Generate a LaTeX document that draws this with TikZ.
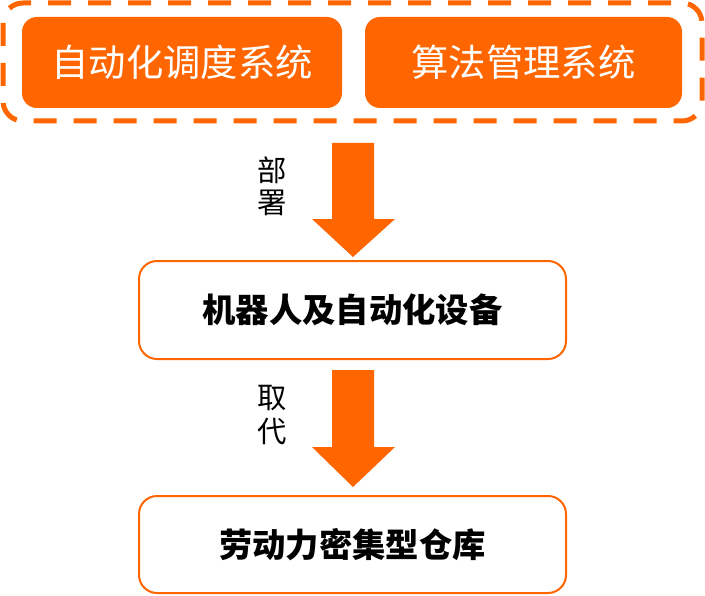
\documentclass[tikz,border=0pt]{standalone}
\usepackage{fontspec}
\setmainfont{Noto Sans CJK SC}
\definecolor{org}{RGB}{255,102,0}
\tikzset{
  topbox/.style={fill=org, rounded corners=11.25pt, minimum height=68.25pt, inner sep=0pt,
    text=white, font=\fontsize{28}{30}\selectfont},
  midbox/.style={draw=org, line width=1.5pt, fill=white, rounded corners=13.5pt, minimum width=320.25pt,
    minimum height=73.5pt, inner sep=0pt, font=\bfseries\fontsize{25}{27}\selectfont},
  lbl/.style={inner sep=0pt, font=\fontsize{22}{24}\selectfont},
  bigarrow/.style={fill=org},
}
\begin{document}
\begin{tikzpicture}[x=0.75pt,y=-0.75pt]
\useasboundingbox (0,0) rectangle (705,595);
% dashed outer group
\draw[org, line width=3.75pt, dash pattern=on 17.25pt off 12.75pt, rounded corners=15pt] (3,3) rectangle (702,121);
\node[topbox, minimum width=240pt] (a) at (182,62.5) {自动化调度系统};
\node[topbox, minimum width=237.75pt] (b) at (523.5,62.5) {算法管理系统};
\node[midbox] (c) at (352.5,310) {机器人及自动化设备};
\node[midbox, minimum height=72.75pt] (d) at (352.5,544.5) {劳动力密集型仓库};
% arrows
\fill[bigarrow] (332,143) -- (374,143) -- (374,219) -- (395,219) -- (353,257) -- (312,219) -- (332,219) -- cycle;
\fill[bigarrow] (332,370) -- (374,370) -- (374,447) -- (395,447) -- (353,487) -- (312,447) -- (332,447) -- cycle;
% labels
\node[lbl] (l1) at (272,170) {部};
\node[lbl] (l2) at (272,203) {署};
\node[lbl] (l3) at (272,398) {取};
\node[lbl] (l4) at (272,432) {代};
\end{tikzpicture}
\end{document}
